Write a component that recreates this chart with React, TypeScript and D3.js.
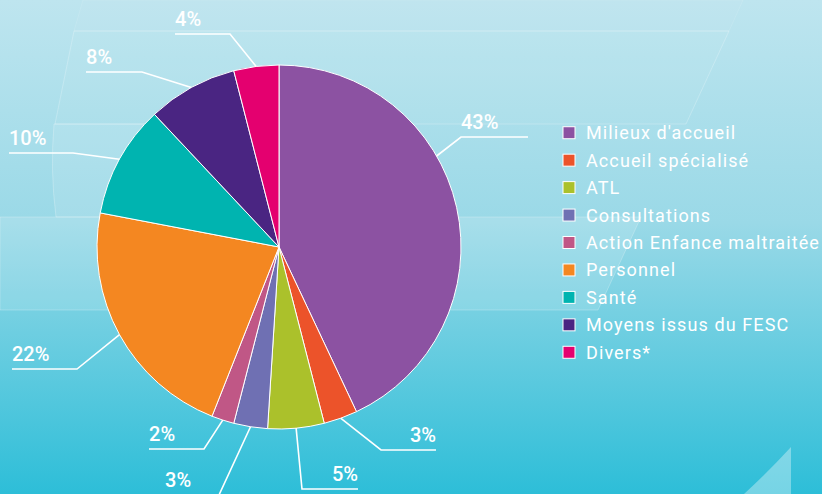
import React from 'react';
import * as d3 from 'd3';

const categories = [
  'Milieux d\'accueil',
  'Accueil spécialisé',
  'ATL',
  'Consultations',
  'Action Enfance maltraitée',
  'Personnel',
  'Santé',
  'Moyens issus du FESC',
  'Divers*',
];
const values = [43, 3, 5, 3, 2, 22, 10, 8, 4];
const colors = ['#8c52a2', '#ec532a', '#abc12b', '#6f70b3', '#c05786', '#f48721', '#00b4b0', '#4a2582', '#e4006f'];

// label leader layout, relative to pie centre: elbow point, end of the horizontal line, text side
const labelLayout = [
  { anchorAngle: 60, ex: 182, ey: -110, hx: 249, side: 'start' },
  { ex: 102, ey: 203, hx: 157, side: 'end' },
  { ex: 23, ey: 242, hx: 79, side: 'end' },
  { ex: -60, ey: 248, hx: -114, side: 'start' },
  { ex: -75, ey: 202, hx: -130, side: 'start' },
  { ex: -202, ey: 122, hx: -267, side: 'start' },
  { ex: -206, ey: -94, hx: -270, side: 'start' },
  { ex: -137, ey: -175, hx: -193, side: 'start' },
  { ex: -49, ey: -213, hx: -104, side: 'start' },
];

const W = 822;
const H = 494;
const cx = 279;
const cy = 247;
const R = 182;

export default function App() {
  const pie = d3.pie<number>().sort(null).startAngle(0).endAngle(2 * Math.PI);
  const arcs = pie(values);
  const arc = d3.arc<d3.PieArcDatum<number>>().innerRadius(0).outerRadius(R);
  const ring = d3.arc()({ innerRadius: 446, outerRadius: 546, startAngle: Math.PI * 1.05, endAngle: Math.PI * 1.75 } as any);

  const legendY = d3.scaleBand<string>().domain(categories).range([119, 366]);

  return (
    <svg width={W} height={H} style={{ position: 'absolute', left: 0, top: 0 }}>
      <defs>
        <linearGradient id="bg" x1="0" y1="0" x2="0" y2="1">
          <stop offset="0" stopColor="#bee5ef" />
          <stop offset="0.45" stopColor="#9ad9e7" />
          <stop offset="1" stopColor="#2dbed8" />
        </linearGradient>
        <clipPath id="ringclip">
          <rect x={0} y={124} width={W} height={H} />
        </clipPath>
      </defs>
      <rect width={W} height={H} fill="url(#bg)" />

      {/* decorative shapes */}
      <g fill="#fff" stroke="#fff" strokeOpacity={0.3} strokeWidth={0.8}>
        <path d="M83,0 L74,31 L729,31 L743,0 Z" fillOpacity={0.03} strokeOpacity={0.15} />
        <path d="M74,31 L729,31 L686,124 L55,124 Z" fillOpacity={0.04} />
        <path d="M54,124 L360,124 L360,217 L56,217 Q50,170 54,124 Z" fillOpacity={0.1} />
        <path d="M0,217 L641,217 L598,310 L0,310 Z" fillOpacity={0.13} />
        <path transform="translate(504,190)" d={ring || ''} fillOpacity={0.2} clipPath="url(#ringclip)" strokeOpacity={0.15} />
        <path d="M791,447 L791,494 L744,494 Q770,470 791,447 Z" fillOpacity={0.35} stroke="none" />
      </g>

      <g transform={`translate(${cx},${cy})`}>
        {arcs.map((a, i) => (
          <path key={i} d={arc(a) || ''} fill={colors[i]} stroke="#fff" strokeWidth={1} />
        ))}
        {arcs.map((a, i) => {
          const lay = labelLayout[i];
          const ang = lay.anchorAngle !== undefined ? (lay.anchorAngle * Math.PI) / 180 : (a.startAngle + a.endAngle) / 2;
          const ax = R * Math.sin(ang);
          const ay = -R * Math.cos(ang);
          const tx = lay.side === 'start' && lay.hx > lay.ex ? lay.ex : lay.hx;
          const anchor = lay.hx > lay.ex ? (lay.side === 'start' ? 'start' : 'end') : 'start';
          return (
            <g key={'l' + i}>
              <polyline
                points={`${ax},${ay} ${lay.ex},${lay.ey} ${lay.hx},${lay.ey}`}
                fill="none"
                stroke="#fff"
                strokeWidth={1.6}
              />
              <text
                x={tx}
                y={lay.ey - 8}
                textAnchor={anchor}
                fill="#fff"
                fontFamily="Roboto, sans-serif"
                fontWeight={500}
                fontSize={20}
              >
                {a.data}%
              </text>
            </g>
          );
        })}
      </g>

      <g>
        {categories.map((c, i) => {
          const y = (legendY(c) || 0) + legendY.bandwidth() / 2;
          return (
            <g key={c}>
              <rect x={563} y={y - 6} width={12} height={12} fill={colors[i]} stroke="#fff" strokeWidth={1} />
              <text
                x={586}
                y={y}
                dy="0.36em"
                fill="#fff"
                fontFamily="Roboto, sans-serif"
                fontSize={18}
                letterSpacing={1.1}
              >
                {c}
              </text>
            </g>
          );
        })}
      </g>
    </svg>
  );
}
